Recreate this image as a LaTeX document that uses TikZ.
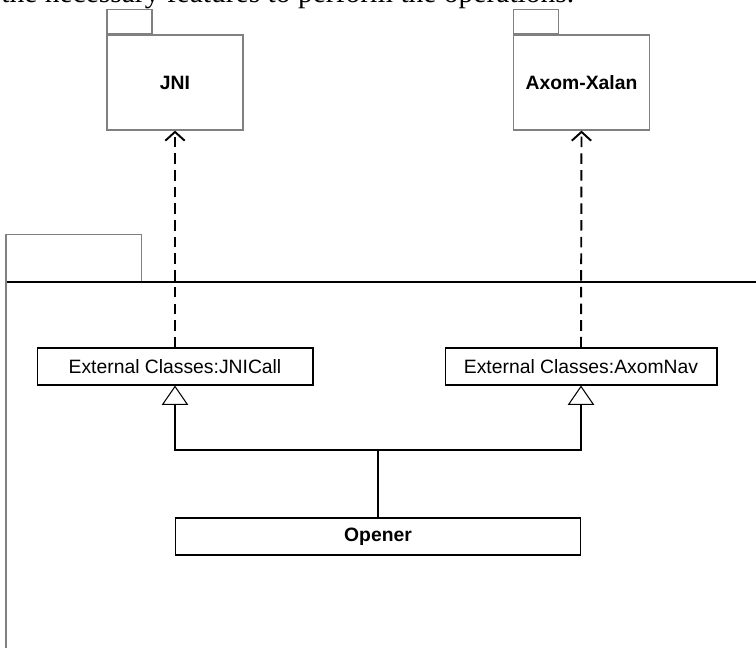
\documentclass[tikz,border=0pt]{standalone}
\usepackage{fontspec}
\setmainfont{Liberation Serif}
\newfontfamily\arial{Liberation Sans}
\usetikzlibrary{arrows.meta, positioning}
\definecolor{pkGray}{HTML}{808080}

\begin{document}
\begin{tikzpicture}[x=0.02cm, y=-0.02cm,
      pkg/.style={draw=pkGray, line width=0.7pt, minimum width=2.72cm, minimum height=1.9cm,
                  font=\arial\fontsize{11}{13}\selectfont\bfseries},
      tab/.style={draw=pkGray, line width=0.7pt, minimum width=0.9cm, minimum height=0.48cm},
      cls/.style={draw, line width=0.6pt, minimum height=0.74cm, font=\arial\fontsize{11}{13}\selectfont},
      dep/.style={line width=1.1pt, dash pattern=on 6pt off 3.5pt, -{Straight Barb[length=5pt, width=11pt]}},
      gen/.style={line width=0.6pt, -{Triangle[open, length=11pt, width=15pt]}}]
    \useasboundingbox (0,0) rectangle (756,648);
    \node[anchor=base west, inner sep=0, font=\fontsize{16.8}{20}\selectfont] (intro) at (1,3)
      {the necessary features to perform the operations.};

    \node[pkg] (jni)  at (175,82.5)   {JNI};
    \node[tab, anchor=south west] (jnitab) at (jni.north west) {};
    \node[pkg] (axom) at (581.5,82.5) {Axom-Xalan};
    \node[tab, anchor=south west] (axomtab) at (axom.north west) {};

    \coordinate (outer) at (6,282);
    \coordinate (edge) at (756,282);
    \coordinate (foot) at (6,648);
    \node[tab, minimum width=2.7cm, minimum height=0.94cm, anchor=south west] (outertab) at (outer) {};
    \draw[line width=0.6pt] (outer) -- (edge);
    \draw[pkGray, line width=1.1pt] (outertab.north west) -- (foot);

    \node[cls, minimum width=5.52cm] (jnicall) at (175,366.5) {External Classes:JNICall};
    \node[cls, minimum width=5.44cm] (axomnav) at (581,366.5) {External Classes:AxomNav};
    \node[cls, minimum width=8.12cm, font=\arial\fontsize{11}{13}\selectfont\bfseries] (opener) at (378,536.5) {Opener};
    \coordinate (bus) at (378,450);

    \draw[dep] (jnicall.north) -- (jni.south);
    \draw[dep] (axomnav.north) -- (axom.south);
    \draw[line width=0.6pt] (opener.north) -- (bus);
    \draw[gen] (bus) -| (jnicall.south);
    \draw[gen] (bus) -| (axomnav.south);
  \end{tikzpicture}
\end{document}
